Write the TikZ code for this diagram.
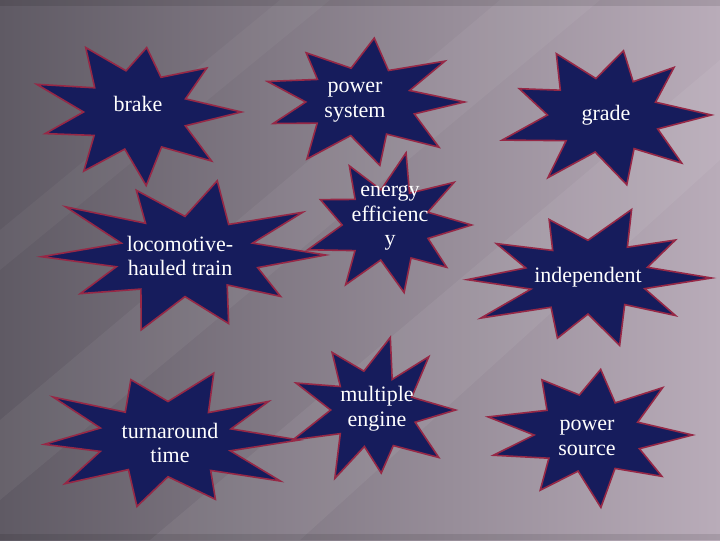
\documentclass[tikz,border=0pt]{standalone}
\usepackage{fontspec}
\setmainfont{Liberation Serif}
\definecolor{navy}{RGB}{22,28,92}
\definecolor{crim}{RGB}{150,40,70}
\definecolor{bgl}{RGB}{95,90,100}
\definecolor{bgr}{RGB}{185,172,185}
\tikzset{burst/.style={fill=navy,draw=crim,line width=1.2pt,line join=miter},
lbl/.style={text=white,font=\fontsize{16.5}{18.5}\selectfont,align=center}}
\newcommand\burst[6]{%
\pgfmathsetmacro\nm{#5-1}%
\pgfmathsetseed{#6}%
\draw[burst] ({#1+#3*0.95},{#2}) \foreach \k in {1,...,\nm}{
 -- ({#1+#3*(0.45+0.08*rnd)*cos((\k-0.5)*360/#5)},{#2+#4*(0.45+0.08*rnd)*sin((\k-0.5)*360/#5)})
 -- ({#1+#3*(0.82+0.18*rnd)*cos(\k*360/#5+4*rand)},{#2+#4*(0.82+0.18*rnd)*sin(\k*360/#5+4*rand)})}
 -- ({#1+#3*0.48*cos(-180/#5)},{#2+#4*0.48*sin(-180/#5)}) -- cycle;}
\begin{document}
\begin{tikzpicture}[x=0.75pt,y=-0.75pt]
\shade[left color=bgl,right color=bgr] (0,0) rectangle (720,540);
\useasboundingbox (0,0) rectangle (720,540);
\fill[white,opacity=0.06] (150,540) -- (720,60) -- (720,160) -- (300,540) -- cycle;
\fill[white,opacity=0.05] (0,420) -- (500,0) -- (600,0) -- (0,500) -- cycle;
\fill[white,opacity=0.04] (0,230) -- (280,0) -- (330,0) -- (0,270) -- cycle;
\fill[black,opacity=0.1] (0,0) rectangle (720,6);
\fill[black,opacity=0.1] (0,534) rectangle (720,540);
\burst{135}{112}{112}{80}{9}{11}
\burst{360}{102}{110}{70}{9}{23}
\burst{605}{115}{112}{78}{9}{37}
\burst{185}{255}{148}{80}{10}{41}
\burst{388}{225}{88}{78}{9}{53}
\burst{588}{278}{130}{72}{10}{67}
\burst{168}{440}{138}{75}{10}{71}
\burst{372}{410}{88}{78}{9}{83}
\burst{588}{435}{110}{78}{9}{97}
\node[lbl] (n1) at (138,104) {brake};
\node[lbl] (n2) at (355,102) {power\\system};
\node[lbl] (n3) at (606,115) {grade};
\node[lbl] (n4) at (180,256) {locomotive-\\hauled train};
\node[lbl] (n5) at (390,218) {energy\\efficienc\\y};
\node[lbl] (n6) at (588,277) {independent};
\node[lbl] (n7) at (170,443) {turnaround\\time};
\node[lbl] (n8) at (377,409) {multiple\\engine};
\node[lbl] (n9) at (587,438) {power\\source};
\end{tikzpicture}
\end{document}
